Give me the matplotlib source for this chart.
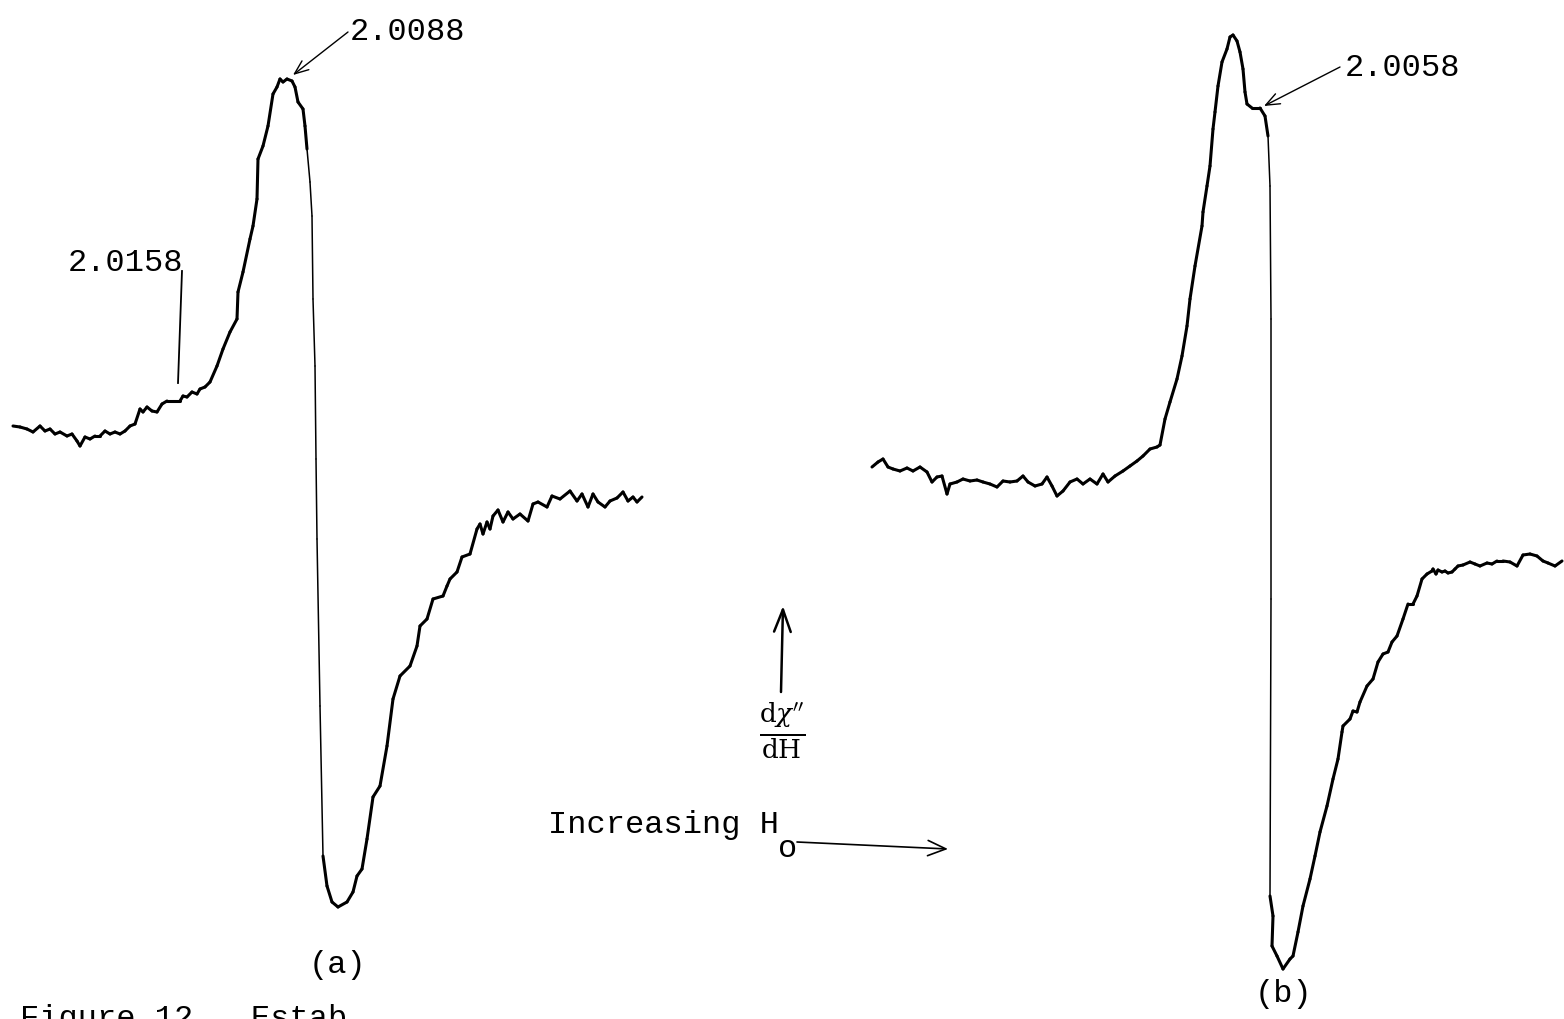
import numpy as np
import matplotlib.pyplot as plt
from matplotlib.collections import LineCollection

# traced recorder output, page coordinates (field -> right, signal -> down)
# spectrum (a)
a_field = [13, 20, 27, 33, 40, 45, 50, 55, 60, 67, 72, 77, 80, 85, 90, 95, 100, 105,
           110, 115, 120, 125, 130, 135, 140, 143, 147, 152, 157, 162, 167, 173, 180,
           183, 187, 192, 197, 200, 205, 210, 217, 223, 230, 237, 238, 243, 250, 253,
           257, 258, 263, 268, 273, 277, 280, 283, 287, 292, 295, 298, 303, 305, 307,
           310, 312, 313, 315, 316, 317, 320, 323, 327, 332, 338, 347, 353, 357, 362,
           367, 373, 380, 387, 393, 400, 410, 417, 420, 427, 433, 443, 447, 450, 457,
           462, 470, 477, 480, 483, 487, 490, 493, 498, 503, 508, 513, 520, 528, 533,
           538, 547, 552, 560, 570, 577, 582, 588, 593, 598, 605, 610, 617, 623, 628,
           633, 637, 642]
a_signal = [427, 428, 430, 433, 427, 432, 430, 435, 433, 437, 435, 442, 447, 438, 440,
            437, 437, 432, 435, 433, 435, 432, 427, 425, 410, 413, 408, 412, 413, 405,
            402, 402, 402, 397, 398, 393, 395, 390, 388, 383, 367, 350, 333, 320, 293,
            273, 240, 227, 200, 160, 147, 127, 95, 88, 80, 83, 80, 82, 88, 103, 110, 127,
            150, 183, 217, 300, 367, 460, 540, 707, 857, 887, 903, 908, 903, 893, 877,
            870, 840, 798, 787, 747, 700, 677, 667, 647, 627, 620, 600, 597, 587, 580,
            573, 558, 555, 530, 525, 535, 523, 530, 517, 511, 523, 513, 520, 515, 522,
            505, 503, 508, 497, 500, 492, 502, 495, 508, 495, 503, 508, 502, 499, 493,
            502, 498, 503, 498]

# spectrum (b)
b_field = [872, 878, 883, 888, 893, 900, 907, 913, 920, 927, 932, 937, 942, 947, 950,
           957, 963, 970, 977, 983, 990, 997, 1003, 1010, 1017, 1023, 1028, 1035, 1042,
           1047, 1052, 1057, 1063, 1070, 1077, 1083, 1090, 1097, 1103, 1108, 1115, 1123,
           1130, 1137, 1143, 1150, 1157, 1160, 1165, 1170, 1177, 1182, 1187, 1190, 1195,
           1202, 1203, 1207, 1210, 1213, 1215, 1218, 1222, 1227, 1230, 1233, 1237, 1240,
           1243, 1245, 1247, 1252, 1260, 1265, 1268, 1270, 1271, 1271, 1270, 1273, 1272,
           1277, 1283, 1290, 1293, 1298, 1303, 1310, 1315, 1320, 1327, 1333, 1338, 1342,
           1343, 1350, 1353, 1357, 1360, 1367, 1373, 1378, 1383, 1388, 1392, 1397, 1403,
           1408, 1413, 1417, 1422, 1427, 1432, 1433, 1436, 1438, 1442, 1445, 1448, 1452,
           1455, 1458, 1463, 1470, 1475, 1480, 1487, 1492, 1497, 1503, 1510, 1517, 1523,
           1530, 1537, 1543, 1548, 1555, 1562]
b_signal = [468, 463, 460, 468, 470, 472, 469, 472, 468, 473, 483, 478, 477, 495, 485,
            483, 480, 482, 481, 483, 485, 488, 482, 483, 482, 477, 483, 487, 485, 478,
            487, 497, 492, 483, 480, 485, 480, 485, 475, 483, 477, 472, 467, 462, 457,
            450, 448, 446, 420, 403, 380, 357, 327, 300, 267, 227, 213, 187, 167, 130,
            113, 87, 63, 50, 38, 36, 42, 53, 70, 93, 105, 109, 109, 117, 137, 187, 320,
            600, 897, 917, 947, 957, 970, 960, 957, 933, 907, 880, 857, 833, 807, 780,
            760, 733, 727, 720, 712, 713, 703, 687, 680, 663, 655, 653, 643, 637, 620,
            605, 605, 597, 580, 575, 572, 570, 575, 571, 573, 572, 574, 573, 570, 567,
            566, 563, 565, 567, 564, 565, 562, 562, 563, 567, 556, 555, 557, 562, 564,
            567, 562]

g_labels = ["2.0088", "2.0158", "2.0058"]
panel_labels = ["(a)", "(b)"]

MONO = "Liberation Mono"
plt.rcParams['mathtext.fontset'] = 'dejavuserif'


def draw_trace(ax, x, y):
    x = np.asarray(x, float)
    y = np.asarray(y, float)
    pts = np.column_stack([x, y]).reshape(-1, 1, 2)
    segs = np.concatenate([pts[:-1], pts[1:]], axis=1)
    dx, dy = np.diff(x), np.diff(y)
    # pen moves fast on the big downward sweep -> thinner ink
    fast = (dy > 30) & (dy > 5 * np.abs(dx))
    widths = np.where(fast, 1.1, 2.2)
    lc = LineCollection(segs, linewidths=widths, colors="black",
                        capstyle="round", joinstyle="round")
    ax.add_collection(lc)


def arrow(ax, tail, head, lw=1.0, hl=0.9, hw=0.35):
    ax.annotate("", xy=head, xytext=tail,
                arrowprops=dict(arrowstyle=f"->,head_length={hl},head_width={hw}",
                                lw=lw, color="black", shrinkA=0, shrinkB=0))


fig = plt.figure(figsize=(15.64, 10.2), dpi=100)
ax = fig.add_axes([0, 0, 1, 1])
ax.set_xlim(0, 1564)
ax.set_ylim(1020, 0)
ax.axis("off")

draw_trace(ax, a_field, a_signal)
draw_trace(ax, b_field, b_signal)

fs = 23
# g-value markers
ax.text(350, 40, g_labels[0], fontsize=fs, family=MONO, va="baseline", ha="left")
arrow(ax, (348, 33), (293, 76), hl=1.0, hw=0.4)

ax.text(68, 271, g_labels[1], fontsize=fs, family=MONO, va="baseline", ha="left")
ax.plot([182, 178], [272, 384], color="black", lw=1.3)

ax.text(1345, 76, g_labels[2], fontsize=fs, family=MONO, va="baseline", ha="left")
arrow(ax, (1340, 68), (1264, 107), hl=1.0, hw=0.4)

# dchi''/dH axis indicator
arrow(ax, (781, 693), (783, 607), lw=1.8, hl=1.6, hw=0.6)
ax.text(782, 731, r"$\frac{\mathrm{d}\chi''}{\mathrm{dH}}$", fontsize=27,
        ha="center", va="center")

# field direction
ax.text(548, 833, "Increasing H", fontsize=fs, family=MONO, va="baseline", ha="left")
ax.text(778, 857, "o", fontsize=fs, family=MONO, va="baseline", ha="left")
arrow(ax, (797, 843), (948, 850), lw=1.2, hl=1.3, hw=0.55)

ax.text(338, 965, panel_labels[0], fontsize=fs, family=MONO, va="center", ha="center")
ax.text(1283, 994, panel_labels[1], fontsize=fs, family=MONO, va="center", ha="center")

# caption, cut off by the page edge as in the scan
ax.text(20, 1027, "Figure 12.  Estab", fontsize=fs, family=MONO, va="baseline", ha="left")

fig.savefig("out.png", dpi=100)
